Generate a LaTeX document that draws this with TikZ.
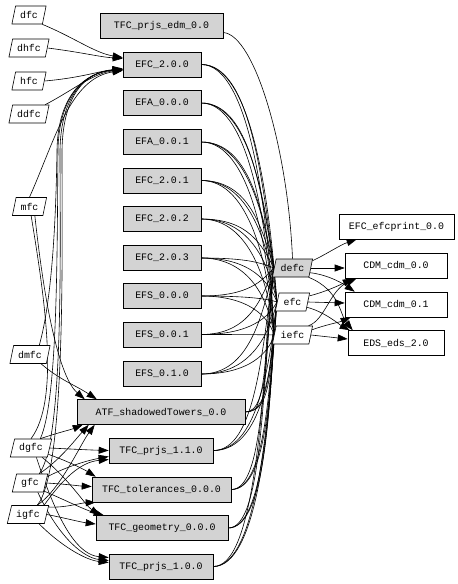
\documentclass[tikz,border=0pt]{standalone}
\usepackage{fontspec}
\newfontfamily\gvfont{Liberation Mono}
\usetikzlibrary{shapes.geometric,arrows.meta,calc}
\definecolor{gvgray}{HTML}{D3D3D3}
\pgfdeclarelayer{bg}
\pgfsetlayers{bg,main}
\newcommand\boxlink[3]{\draw[edgeline] let \p1=(#1.east), \p2=(#2.west) in (\p1) .. controls ({(\x1+\x2)/2+12pt},\y1) and ({\x2-#3},{\y2+0.45*(\y1-\y2)}) .. (\p2);}
\begin{document}
\begin{tikzpicture}[x=1pt,y=-1pt,
  gvtext/.style={font=\gvfont\fontsize{9.9}{11}\selectfont},
  filenode/.style={gvtext,draw,trapezium,trapezium left angle=72,trapezium right angle=108,trapezium stretches body,inner xsep=4.5pt,inner ysep=2pt,minimum height=18pt,line width=0.6pt,fill=white},
  pkg/.style={gvtext,draw,rectangle,fill=gvgray,minimum height=25pt,inner sep=0pt,line width=0.6pt},
  outbox/.style={gvtext,draw,rectangle,fill=white,minimum height=25pt,inner sep=0pt,line width=0.6pt},
  edgeline/.style={line width=0.6pt},
  arr/.style={edgeline,-{Triangle[length=10pt,width=7pt]}}]
\useasboundingbox (0,0) rectangle (458,584);
% file nodes (left)
\node[filenode] (dfc) at (29,15) {dfc};
\node[filenode] (dhfc) at (29,48) {dhfc};
\node[filenode] (hfc) at (29,81) {hfc};
\node[filenode] (ddfc) at (29,114) {ddfc};
\node[filenode] (mfc) at (29.5,206.5) {mfc};
\node[filenode] (dmfc) at (30,354.5) {dmfc};
\node[filenode] (dgfc) at (31,448) {dgfc};
\node[filenode] (gfc) at (30,483) {gfc};
\node[filenode] (igfc) at (28,514.5) {igfc};
% middle packages
\node[pkg,minimum width=123pt] (tedm) at (161.5,25.5) {TFC\_prjs\_edm\_0.0};
\node[pkg,minimum width=78pt] (e200) at (162,64.5) {EFC\_2.0.0};
\node[pkg,minimum width=78pt] (a000) at (162,103) {EFA\_0.0.0};
\node[pkg,minimum width=78pt] (a001) at (162,142) {EFA\_0.0.1};
\node[pkg,minimum width=78pt] (e201) at (162,180.5) {EFC\_2.0.1};
\node[pkg,minimum width=78pt] (e202) at (162,219) {EFC\_2.0.2};
\node[pkg,minimum width=78pt] (e203) at (162,258) {EFC\_2.0.3};
\node[pkg,minimum width=78pt] (s000) at (162,296) {EFS\_0.0.0};
\node[pkg,minimum width=78pt] (s001) at (162,334.5) {EFS\_0.0.1};
\node[pkg,minimum width=78pt] (s010) at (162,374) {EFS\_0.1.0};
\node[pkg,minimum width=168pt] (atf) at (161,412) {ATF\_shadowedTowers\_0.0};
\node[pkg,minimum width=104pt] (p110) at (161,450.5) {TFC\_prjs\_1.1.0};
\node[pkg,minimum width=139pt] (tol) at (161.5,489.5) {TFC\_tolerances\_0.0.0};
\node[pkg,minimum width=132pt] (geo) at (162,528) {TFC\_geometry\_0.0.0};
\node[pkg,minimum width=104pt] (p100) at (161,566.5) {TFC\_prjs\_1.0.0};
% intermediate files
\node[filenode,fill=gvgray] (defc) at (292.5,268) {defc};
\node[filenode] (efc) at (292.5,302) {efc};
\node[filenode] (iefc) at (292.5,335) {iefc};
% right outputs
\node[outbox,minimum width=115pt] (efcprint) at (396.5,226.5) {EFC\_efcprint\_0.0};
\node[outbox,minimum width=102pt] (cdm0) at (396,265.5) {CDM\_cdm\_0.0};
\node[outbox,minimum width=102pt] (cdm1) at (396,304.5) {CDM\_cdm\_0.1};
\node[outbox,minimum width=96pt] (eds) at (396,343) {EDS\_eds\_2.0};

\begin{pgfonlayer}{bg}
\fill[white] (0,0) rectangle (458,584);
% left files -> EFC_2.0.0
\draw[arr] (dfc.-35) .. controls (75,38) and (95,53) .. ($(e200.west)+(0,-7)$);
\draw[arr] (dhfc.east) .. controls (80,52) and (100,57) .. ($(e200.west)+(0,-6)$);
\draw[arr] (hfc.east) .. controls (80,78) and (100,71) .. ($(e200.west)+(0,4)$);
\draw[arr] (ddfc.30) .. controls (70,92) and (95,72) .. ($(e200.west)+(0,6)$);
\draw[arr] (mfc.north) .. controls (55,140) and (70,78) .. ($(e200.west)+(0,6)$);
\draw[arr] (dmfc.north east) .. controls (52,300) and (56,220) .. (57,150) .. controls (58,95) and (85,72) .. ($(e200.west)+(0,5)$);
\draw[arr] (dgfc.north east) .. controls (58,400) and (57,250) .. (58,150) .. controls (59,95) and (85,72) .. ($(e200.west)+(0,5)$);
\draw[arr] (gfc.north east) .. controls (64,440) and (60,250) .. (60,150) .. controls (61,95) and (85,72) .. ($(e200.west)+(0,5)$);
\draw[arr] (igfc.north east) .. controls (66,470) and (62,250) .. (62,150) .. controls (63,95) and (85,72) .. ($(e200.west)+(0,5)$);
% mfc -- dgfc
\draw[edgeline] (mfc.-80) .. controls (45,300) and (60,400) .. (dgfc.north);
% -> ATF
\draw[arr] (mfc.-60) .. controls (45,310) and (60,378) .. ($(atf.north west)+(8,0)$);
\draw[arr] (dmfc.-40) .. controls (60,380) and (75,385) .. ($(atf.north west)+(20,0)$);
\draw[arr] (dgfc.north east) .. controls (60,432) and (70,430) .. ($(atf.south west)+(6,0)$);
\draw[arr] (gfc.north east) .. controls (60,460) and (75,440) .. ($(atf.south west)+(12,0)$);
\draw[arr] (igfc.north east) .. controls (60,490) and (80,445) .. ($(atf.south west)+(18,0)$);
% -> TFC_prjs_1.1.0
\draw[arr] (dgfc.east) .. controls (70,449) and (90,450) .. (p110.west);
\draw[arr] (gfc.20) .. controls (70,465) and (90,460) .. ($(p110.west)+(0,6)$);
\draw[arr] (igfc.30) .. controls (62,480) and (80,462) .. ($(p110.west)+(0,9)$);
% -> TFC_tolerances
\draw[arr] (dgfc.-20) .. controls (70,462) and (85,470) .. ($(tol.north west)+(4,0)$);
\draw[arr] (gfc.east) .. controls (65,484) and (80,486) .. ($(tol.west)+(0,-3)$);
\draw[arr] (igfc.20) .. controls (65,508) and (80,503) .. ($(tol.south west)+(4,0)$);
% -> TFC_geometry
\draw[arr] (dgfc.-40) .. controls (70,480) and (85,505) .. ($(geo.north west)+(4,0)$);
\draw[arr] (gfc.-30) .. controls (65,500) and (85,510) .. ($(geo.north west)+(8,0)$);
\draw[arr] (igfc.east) .. controls (65,518) and (80,522) .. ($(geo.west)+(0,-4)$);
% -> TFC_prjs_1.0.0
\draw[arr] (dgfc.-60) .. controls (60,530) and (80,555) .. ($(p100.west)+(0,-9)$);
\draw[arr] (gfc.-50) .. controls (60,540) and (85,558) .. ($(p100.west)+(0,-6)$);
\draw[arr] (igfc.-40) .. controls (60,545) and (85,560) .. ($(p100.west)+(0,-4)$);
% packages -> intermediate files
\draw[edgeline] ($(tedm.east)+(0,7)$) .. controls (255,35) and (288,150) .. (defc.north);
\foreach \b in {e200,a000,a001,e201,e202,e203,s000,s001,s010,atf,p110,tol,geo,p100}{
  \boxlink{\b}{defc}{12pt}
  \boxlink{\b}{efc}{8pt}
  \boxlink{\b}{iefc}{5pt}
}
% intermediate files -> outputs
\draw[arr] (defc.20) .. controls (325,255) and (340,245) .. ($(efcprint.south west)+(18,0)$);
\draw[arr] (defc.east) -- ($(cdm0.west)+(0,2.5)$);
\draw[arr] (defc.-15) .. controls (330,275) and (345,285) .. ($(cdm1.north west)+(10,0)$);
\draw[arr] (defc.-30) .. controls (340,290) and (340,315) .. ($(eds.north west)+(5,0)$);
\draw[arr] (efc.20) .. controls (325,292) and (340,285) .. ($(cdm0.south west)+(8,0)$);
\draw[arr] (efc.east) -- ($(cdm1.west)+(0,-1.5)$);
\draw[arr] (efc.-20) .. controls (325,312) and (340,325) .. ($(eds.north west)+(2,0)$);
\draw[arr] (iefc.30) .. controls (325,320) and (330,290) .. ($(cdm0.south west)+(12,0)$);
\draw[arr] (iefc.15) .. controls (325,325) and (340,322) .. ($(cdm1.south west)+(6,0)$);
\draw[arr] (iefc.east) -- ($(eds.west)+(0,-4)$);
\end{pgfonlayer}
\end{tikzpicture}
\end{document}
